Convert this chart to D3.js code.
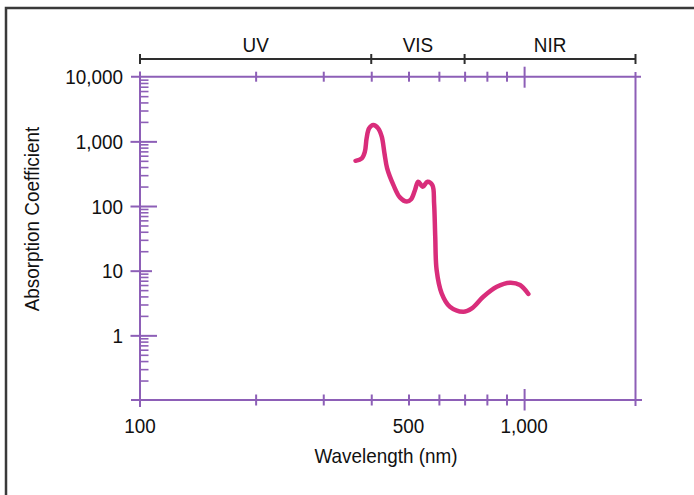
<!DOCTYPE html>
<html>
<head>
<meta charset="utf-8">
<script src="https://cdn.jsdelivr.net/npm/d3@7"></script>
<style>
  html, body { margin: 0; padding: 0; background: #fff; }
  svg { display: block; }
  text { font-family: "Liberation Sans", Arial, sans-serif; font-size: 21px; fill: #111; }
  .axis path, .axis line { stroke: #8d5fb7; stroke-width: 2; }
  .axis.menor line { stroke-width: 1.6; }
</style>
</head>
<body>
<svg id="chart" width="694" height="495"></svg>
<script>
// ===== DATOS =====
const longitudOnda = [364, 378, 385, 389, 395, 405, 417, 426, 433, 440, 457, 475, 495, 508, 520, 530, 545, 560, 577, 583, 587, 592, 610, 641, 695, 731, 783, 849, 919, 976, 1026];
const coeficiente  = [500, 547, 692, 1110, 1590, 1790, 1590, 1180, 653, 383, 211, 136, 117, 127, 177, 238, 199, 238, 211, 110, 33.6, 10.2, 4.47, 2.77, 2.32, 2.62, 3.96, 5.65, 6.52, 6.01, 4.36];

const xTicksMenores = [200, 300, 400, 500, 600, 700, 800, 900];
const xTicksMayores = [100, 500, 1000];
const xEtiquetas = ["100", "500", "1,000"];
const yTicksMayores = [10000, 1000, 100, 10, 1];
const yEtiquetas = ["10,000", "1,000", "100", "10", "1"];

const regiones = ["UV", "VIS", "NIR"];
const limitesRegion = [100, 400, 700, 1950];

// ===== ESCALAS =====
const svg = d3.select("#chart");
const x = d3.scaleLog().domain([100, 1950]).range([140, 635.5]);
const y = d3.scaleLog().domain([0.1, 10000]).range([400, 76.7]);

// texto estrecho (fuente condensada simulada)
function etiqueta(sel, px, py, anchor, extra) {
  return sel
    .attr("transform", `translate(${px},${py})${extra || ""} scale(0.9,1)`)
    .attr("text-anchor", anchor);
}

// marco exterior (solo izquierda y arriba)
svg.append("path")
  .attr("d", "M6,495 V8 H694")
  .attr("fill", "none")
  .attr("stroke", "#3a3a3a")
  .attr("stroke-width", 2.5);

// ===== EJES =====
// eje inferior
const ejeAbajo = svg.append("g")
  .attr("class", "axis")
  .attr("transform", `translate(0,${y(0.1)})`)
  .call(d3.axisBottom(x).tickValues(xTicksMenores.concat([1000])).tickFormat("").tickSizeOuter(0));
ejeAbajo.select(".domain").attr("d", `M131,0 H642`);
ejeAbajo.selectAll(".tick line")
  .attr("y1", d => d === 1000 ? -11 : -5.5)
  .attr("y2", d => d === 1000 ? 10.5 : 5.5);

// eje superior
const ejeArriba = svg.append("g")
  .attr("class", "axis")
  .attr("transform", `translate(0,${y(10000)})`)
  .call(d3.axisTop(x).tickValues(xTicksMenores.concat([1000])).tickFormat("").tickSizeOuter(0));
ejeArriba.select(".domain").attr("d", `M131,0 H641`);
ejeArriba.selectAll(".tick line")
  .attr("y1", d => d === 1000 ? -10 : -5)
  .attr("y2", d => d === 1000 ? 11 : 5);

// eje izquierdo con ticks menores logaritmicos
const yMenores = [];
[0.1, 1, 10, 100, 1000].forEach(base => {
  for (let k = 2; k <= 9; k++) yMenores.push(base * k);
});
const ejeIzq = svg.append("g")
  .attr("class", "axis menor")
  .attr("transform", `translate(${x(100)},0)`)
  .call(d3.axisRight(y).tickValues(yMenores).tickFormat("").tickSize(8.5).tickSizeOuter(0));
ejeIzq.select(".domain").attr("d", `M0,71.5 V407`).style("stroke-width", 2);

svg.append("g")
  .attr("class", "axis")
  .attr("transform", `translate(${x(100)},0)`)
  .call(d3.axisLeft(y).tickValues([1000, 100, 10, 1]).tickFormat("").tickSizeOuter(0))
  .call(g => g.select(".domain").remove())
  .selectAll(".tick line")
  .attr("x1", -9.5)
  .attr("x2", d => d === 10 ? 12 : 17);

// eje derecho
svg.append("g")
  .attr("class", "axis")
  .attr("transform", `translate(${x(1950)},0)`)
  .call(d3.axisRight(y).tickValues([]).tickSizeOuter(0))
  .select(".domain").attr("d", `M0,72 V406`);

// etiquetas del eje y
svg.append("g").selectAll("text")
  .data(yTicksMayores)
  .join("text")
  .each(function (d) { etiqueta(d3.select(this), 123, y(d), "end"); })
  .attr("dy", "0.36em")
  .text((d, i) => yEtiquetas[i]);

// etiquetas del eje x
svg.append("g").selectAll("text")
  .data(xTicksMayores)
  .join("text")
  .each(function (d) { etiqueta(d3.select(this), x(d), 433, "middle"); })
  .text((d, i) => xEtiquetas[i]);

etiqueta(svg.append("text"), 386, 463, "middle").text("Wavelength (nm)");

svg.append("text")
  .attr("transform", "translate(39,219) rotate(-90) scale(0.9,1)")
  .attr("text-anchor", "middle")
  .text("Absorption Coefficient");

// ===== REGIONES UV / VIS / NIR =====
const yCorchete = 59;
svg.append("line")
  .attr("x1", x(limitesRegion[0])).attr("x2", x(limitesRegion[3]))
  .attr("y1", yCorchete).attr("y2", yCorchete)
  .attr("stroke", "#2e2e2e").attr("stroke-width", 2);
svg.append("g").selectAll("line")
  .data(limitesRegion)
  .join("line")
  .attr("x1", d => x(d)).attr("x2", d => x(d))
  .attr("y1", yCorchete - 5).attr("y2", yCorchete + 5)
  .attr("stroke", "#2e2e2e").attr("stroke-width", 2);
svg.append("g").selectAll("text")
  .data(regiones)
  .join("text")
  .each(function (d, i) {
    etiqueta(d3.select(this), (x(limitesRegion[i]) + x(limitesRegion[i + 1])) / 2, 52, "middle");
  })
  .text(d => d);

// ===== CURVA =====
const puntos = longitudOnda.map((w, i) => [w, coeficiente[i]]);
const linea = d3.line()
  .x(d => x(d[0]))
  .y(d => y(d[1]))
  .curve(d3.curveCatmullRom.alpha(0.5));

svg.append("path")
  .datum(puntos)
  .attr("d", linea)
  .attr("fill", "none")
  .attr("stroke", "#d92d7b")
  .attr("stroke-width", 4.5)
  .attr("stroke-linecap", "round")
  .attr("stroke-linejoin", "round");
</script>
</body>
</html>
